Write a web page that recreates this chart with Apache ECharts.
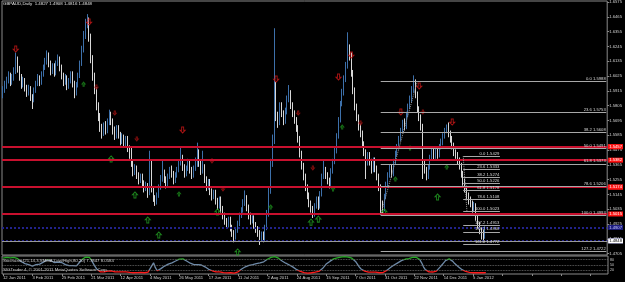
<!DOCTYPE html>
<html><head><meta charset="utf-8">
<script src="https://cdn.jsdelivr.net/npm/echarts@6/dist/echarts.min.js"></script>
<style>html,body{margin:0;padding:0;background:#000;}#c{width:625px;height:282px;}</style>
</head><body><div id="c"></div>
<script>
const opens = [
1.5890,1.5920,1.5960,1.5990,1.6030,1.5980,1.6010,1.6060,1.6150,1.6080,
1.6020,1.5960,1.5990,1.5940,1.5900,1.5930,1.5870,1.5850,1.5920,1.5970,
1.6010,1.5980,1.6040,1.6090,1.6130,1.6180,1.6120,1.6060,1.6100,1.6050,
1.6120,1.6160,1.6090,1.6030,1.5980,1.6010,1.5950,1.5990,1.6040,1.5970,
1.5900,1.5960,1.6030,1.6120,1.6220,1.6330,1.6420,1.6440,1.6310,1.6150,
1.6020,1.5920,1.5800,1.5720,1.5640,1.5600,1.5660,1.5620,1.5680,1.5740,
1.5690,1.5620,1.5580,1.5640,1.5590,1.5540,1.5570,1.5520,1.5560,1.5490,
1.5440,1.5380,1.5310,1.5340,1.5290,1.5250,1.5280,1.5230,1.5190,1.5210,
1.5150,1.5380,1.5180,1.5120,1.5090,1.5140,1.5200,1.5260,1.5310,1.5260,
1.5220,1.5280,1.5330,1.5300,1.5250,1.5290,1.5330,1.5380,1.5420,1.5350,
1.5300,1.5340,1.5390,1.5330,1.5290,1.5340,1.5400,1.5460,1.5380,1.5320,
1.5350,1.5260,1.5200,1.5240,1.5170,1.5130,1.5160,1.5100,1.5060,1.5110,
1.5040,1.4990,1.4950,1.4920,1.4960,1.4900,1.4860,1.4830,1.4880,1.4930,
1.4990,1.5030,1.5080,1.5120,1.5050,1.4990,1.4950,1.4970,1.4920,1.4890,
1.4860,1.4830,1.4850,1.4820,1.4900,1.5000,1.5170,1.5380,1.5550,1.5950,
1.5720,1.5680,1.5800,1.5750,1.5690,1.5760,1.5850,1.5900,1.5810,1.5750,
1.5700,1.5640,1.5560,1.5450,1.5360,1.5280,1.5200,1.5140,1.5080,1.5040,
1.5000,1.5060,1.5110,1.5060,1.5150,1.5280,1.5330,1.5290,1.5250,1.5220,
1.5320,1.5390,1.5470,1.5580,1.5700,1.5820,1.5900,1.6000,1.6100,1.6230,
1.6180,1.6050,1.5920,1.5800,1.5720,1.5650,1.5600,1.5520,1.5460,1.5380,
1.5440,1.5390,1.5330,1.5400,1.5340,1.5280,1.5200,1.5080,1.5040,1.5130,
1.5220,1.5290,1.5350,1.5300,1.5390,1.5450,1.5500,1.5560,1.5620,1.5680,
1.5650,1.5740,1.5800,1.5850,1.5920,1.5980,1.5890,1.5780,1.5720,1.5650,
1.5380,1.5330,1.5280,1.5350,1.5420,1.5470,1.5430,1.5480,1.5440,1.5500,
1.5530,1.5580,1.5620,1.5660,1.5600,1.5560,1.5510,1.5460,1.5440,1.5400,
1.5360,1.5300,1.5240,1.5190,1.5140,1.5100,1.5080,1.5030,1.5060,1.4980,
1.4920,1.4880,1.4850,1.4827];
const closes = [
1.5920,1.5960,1.5990,1.6030,1.5980,1.6010,1.6060,1.6150,1.6080,1.6020,
1.5960,1.5990,1.5940,1.5900,1.5930,1.5870,1.5850,1.5920,1.5970,1.6010,
1.5980,1.6040,1.6090,1.6130,1.6180,1.6120,1.6060,1.6100,1.6050,1.6120,
1.6160,1.6090,1.6030,1.5980,1.6010,1.5950,1.5990,1.6040,1.5970,1.5900,
1.5960,1.6030,1.6120,1.6220,1.6330,1.6420,1.6440,1.6310,1.6150,1.6020,
1.5920,1.5800,1.5720,1.5640,1.5600,1.5660,1.5620,1.5680,1.5740,1.5690,
1.5620,1.5580,1.5640,1.5590,1.5540,1.5570,1.5520,1.5560,1.5490,1.5440,
1.5380,1.5310,1.5340,1.5290,1.5250,1.5280,1.5230,1.5190,1.5210,1.5150,
1.5380,1.5180,1.5120,1.5090,1.5140,1.5200,1.5260,1.5310,1.5260,1.5220,
1.5280,1.5330,1.5300,1.5250,1.5290,1.5330,1.5380,1.5420,1.5350,1.5300,
1.5340,1.5390,1.5330,1.5290,1.5340,1.5400,1.5460,1.5380,1.5320,1.5350,
1.5260,1.5200,1.5240,1.5170,1.5130,1.5160,1.5100,1.5060,1.5110,1.5040,
1.4990,1.4950,1.4920,1.4960,1.4900,1.4860,1.4830,1.4880,1.4930,1.4990,
1.5030,1.5080,1.5120,1.5050,1.4990,1.4950,1.4970,1.4920,1.4890,1.4860,
1.4830,1.4850,1.4820,1.4900,1.5000,1.5170,1.5380,1.5550,1.5950,1.5720,
1.5680,1.5800,1.5750,1.5690,1.5760,1.5850,1.5900,1.5810,1.5750,1.5700,
1.5640,1.5560,1.5450,1.5360,1.5280,1.5200,1.5140,1.5080,1.5040,1.5000,
1.5060,1.5110,1.5060,1.5150,1.5280,1.5330,1.5290,1.5250,1.5220,1.5320,
1.5390,1.5470,1.5580,1.5700,1.5820,1.5900,1.6000,1.6100,1.6230,1.6180,
1.6050,1.5920,1.5800,1.5720,1.5650,1.5600,1.5520,1.5460,1.5380,1.5440,
1.5390,1.5330,1.5400,1.5340,1.5280,1.5200,1.5080,1.5040,1.5130,1.5220,
1.5290,1.5350,1.5300,1.5390,1.5450,1.5500,1.5560,1.5620,1.5680,1.5650,
1.5740,1.5800,1.5850,1.5920,1.5980,1.5890,1.5780,1.5720,1.5650,1.5380,
1.5330,1.5280,1.5350,1.5420,1.5470,1.5430,1.5480,1.5440,1.5500,1.5530,
1.5580,1.5620,1.5660,1.5600,1.5560,1.5510,1.5460,1.5440,1.5400,1.5360,
1.5300,1.5240,1.5190,1.5140,1.5100,1.5080,1.5030,1.5060,1.4980,1.4920,
1.4880,1.4850,1.4827,1.4848];
const lows = [
1.5860,1.5900,1.5930,1.5970,1.5950,1.5960,1.5990,1.6040,1.6050,1.5990,
1.5930,1.5940,1.5910,1.5870,1.5880,1.5840,1.5780,1.5830,1.5900,1.5950,
1.5950,1.5960,1.6020,1.6070,1.6110,1.6090,1.6030,1.6040,1.6020,1.6030,
1.6100,1.6060,1.6000,1.5950,1.5960,1.5920,1.5930,1.5970,1.5940,1.5860,
1.5880,1.5940,1.6010,1.6100,1.6200,1.6300,1.6380,1.6280,1.6120,1.5990,
1.5890,1.5770,1.5690,1.5610,1.5560,1.5580,1.5590,1.5600,1.5660,1.5660,
1.5590,1.5550,1.5560,1.5560,1.5510,1.5520,1.5490,1.5500,1.5460,1.5410,
1.5350,1.5280,1.5290,1.5260,1.5220,1.5230,1.5200,1.5160,1.5170,1.5120,
1.5140,1.5160,1.5090,1.5060,1.5070,1.5120,1.5180,1.5240,1.5230,1.5190,
1.5200,1.5260,1.5270,1.5220,1.5230,1.5270,1.5310,1.5360,1.5320,1.5270,
1.5280,1.5320,1.5300,1.5260,1.5270,1.5320,1.5350,1.5350,1.5290,1.5300,
1.5230,1.5170,1.5180,1.5140,1.5100,1.5110,1.5070,1.5030,1.5040,1.5010,
1.4960,1.4920,1.4890,1.4900,1.4870,1.4830,1.4790,1.4810,1.4860,1.4910,
1.4970,1.5010,1.5060,1.5020,1.4960,1.4920,1.4930,1.4890,1.4860,1.4830,
1.4770,1.4800,1.4790,1.4800,1.4880,1.4980,1.5150,1.5350,1.5520,1.5690,
1.5640,1.5660,1.5720,1.5660,1.5670,1.5740,1.5830,1.5780,1.5720,1.5670,
1.5610,1.5530,1.5420,1.5330,1.5250,1.5170,1.5110,1.5050,1.5010,1.4970,
1.4980,1.5040,1.5030,1.5040,1.5130,1.5260,1.5260,1.5220,1.5190,1.5200,
1.5300,1.5370,1.5450,1.5560,1.5680,1.5800,1.5880,1.5980,1.6080,1.6140,
1.6020,1.5890,1.5770,1.5690,1.5620,1.5570,1.5490,1.5430,1.5260,1.5360,
1.5360,1.5300,1.5310,1.5310,1.5250,1.5170,1.4995,1.5000,1.5020,1.5110,
1.5200,1.5270,1.5270,1.5280,1.5370,1.5430,1.5480,1.5540,1.5600,1.5620,
1.5630,1.5720,1.5780,1.5830,1.5900,1.5860,1.5750,1.5690,1.5620,1.5260,
1.5300,1.5250,1.5260,1.5330,1.5400,1.5400,1.5410,1.5410,1.5420,1.5480,
1.5510,1.5560,1.5600,1.5570,1.5530,1.5480,1.5430,1.5410,1.5370,1.5330,
1.5270,1.5210,1.5160,1.5110,1.5070,1.5050,1.5010,1.5023,1.4950,1.4890,
1.4850,1.4810,1.4790,1.4816];
const highs = [
1.5950,1.5990,1.6020,1.6060,1.6050,1.6040,1.6090,1.6200,1.6170,1.6100,
1.6040,1.6020,1.6010,1.5960,1.5960,1.5950,1.5890,1.5940,1.5990,1.6040,
1.6030,1.6060,1.6110,1.6160,1.6215,1.6200,1.6140,1.6120,1.6120,1.6140,
1.6185,1.6170,1.6110,1.6050,1.6040,1.6030,1.6010,1.6060,1.6060,1.5990,
1.5980,1.6050,1.6140,1.6250,1.6360,1.6450,1.6485,1.6460,1.6340,1.6180,
1.6050,1.5940,1.5830,1.5750,1.5670,1.5680,1.5690,1.5710,1.5775,1.5760,
1.5710,1.5650,1.5660,1.5660,1.5610,1.5600,1.5590,1.5580,1.5580,1.5510,
1.5490,1.5400,1.5370,1.5360,1.5310,1.5300,1.5300,1.5250,1.5240,1.5230,
1.5470,1.5400,1.5200,1.5140,1.5160,1.5220,1.5290,1.5400,1.5330,1.5280,
1.5300,1.5350,1.5360,1.5320,1.5310,1.5350,1.5400,1.5495,1.5440,1.5370,
1.5360,1.5410,1.5400,1.5350,1.5360,1.5420,1.5530,1.5480,1.5400,1.5470,
1.5370,1.5280,1.5260,1.5260,1.5190,1.5180,1.5180,1.5120,1.5130,1.5130,
1.5060,1.5010,1.4970,1.4980,1.4980,1.4920,1.4880,1.4900,1.4950,1.5010,
1.5050,1.5110,1.5175,1.5140,1.5070,1.5010,1.4990,1.4990,1.4940,1.4910,
1.4880,1.4870,1.4870,1.4920,1.5030,1.5200,1.5410,1.5590,1.6380,1.5980,
1.5760,1.5830,1.5830,1.5770,1.5790,1.5880,1.5958,1.5920,1.5830,1.5770,
1.5720,1.5660,1.5580,1.5470,1.5380,1.5300,1.5220,1.5160,1.5100,1.5060,
1.5080,1.5130,1.5130,1.5170,1.5300,1.5400,1.5350,1.5310,1.5270,1.5340,
1.5410,1.5490,1.5600,1.5720,1.5840,1.5930,1.6030,1.6130,1.6350,1.6260,
1.6200,1.6070,1.5940,1.5820,1.5740,1.5670,1.5620,1.5540,1.5480,1.5460,
1.5460,1.5410,1.5420,1.5420,1.5360,1.5300,1.5220,1.5100,1.5150,1.5240,
1.5310,1.5370,1.5370,1.5410,1.5470,1.5520,1.5580,1.5640,1.5700,1.5710,
1.5760,1.5820,1.5880,1.5950,1.6030,1.6000,1.5910,1.5800,1.5740,1.5670,
1.5400,1.5350,1.5370,1.5440,1.5490,1.5490,1.5500,1.5500,1.5520,1.5560,
1.5600,1.5640,1.5665,1.5680,1.5620,1.5580,1.5530,1.5480,1.5460,1.5420,
1.5380,1.5320,1.5260,1.5210,1.5160,1.5130,1.5100,1.5090,1.5080,1.5000,
1.4940,1.4900,1.4880,1.4908];
const stochMain = [
88,90,92,91,89,90,92,93,85,78,
68,62,58,55,52,48,44,47,52,56,
55,60,66,72,78,80,74,66,64,62,
66,70,64,56,52,48,46,50,47,42,
45,55,68,80,88,94,96,92,80,62,
44,28,18,12,10,12,14,16,20,18,
14,12,13,12,11,12,10,12,10,9,
8,7,9,8,7,9,8,7,9,10,
20,45,62,35,18,22,30,38,44,50,
55,58,62,66,72,78,83,86,84,78,
72,66,60,56,52,50,52,55,50,46,
40,32,26,22,18,15,12,10,12,9,
8,7,6,8,7,6,5,8,12,22,
28,34,40,44,48,50,52,55,58,60,
62,65,68,72,82,88,92,95,96,94,
88,80,72,66,60,55,50,45,38,30,
24,18,14,10,8,6,5,6,7,8,
10,12,14,18,30,42,55,62,70,80,
84,88,90,92,94,95,96,96,94,92,
88,82,70,55,40,28,20,16,12,10,
9,10,12,10,8,7,6,8,12,20,
28,36,44,50,56,62,68,74,78,82,
84,86,90,92,94,93,88,80,62,40,
24,16,12,10,11,13,16,26,38,50,
62,74,82,84,80,70,58,48,40,32,
24,18,14,11,9,8,7,8,7,6,
7,6,7,7.8];
const tickLabels = ['12 Jan 2011','3 Feb 2011','25 Feb 2011','21 Mar 2011','12 Apr 2011','4 May 2011','26 May 2011','17 Jun 2011','11 Jul 2011','2 Aug 2011','24 Aug 2011','15 Sep 2011','7 Oct 2011','31 Oct 2011','22 Nov 2011','14 Dec 2011','5 Jan 2012'];
const priceTicks = [1.6575,1.6465,1.6355,1.6245,1.6135,1.6025,1.5915,1.5805,1.5695,1.5585,1.5475,1.5365,1.5255,1.5145,1.5035,1.4925,1.4815,1.4705];
const redLevels = [1.5513,1.5457,1.5382,1.5197,1.5174,1.5015];
const blueLevels = [1.4907,1.4787];
const bidPrice = 1.4848;
const fibLongLevels = [0.0,23.6,38.2,50.0,61.8,78.6,100.0,127.2];
const fibLongPrices = [1.5988,1.5753,1.5608,1.5491,1.5373,1.5206,1.4993,1.4722];
const fibShortLevels = [0.0,23.6,38.2,50.0,61.8,78.6,100.0,127.2,138.2,161.8];
const fibShortPrices = [1.5429,1.5333,1.5274,1.5226,1.5178,1.5108,1.5023,1.4913,1.4868,1.4772];
const sellArrows = [[7,1.6226],[47,1.6426],[98,1.5624],[149,1.6003],[183,1.6018],[190,1.6181],[217,1.5758],[227,1.5951],[245,1.5683]];
const sellArrowsSmall = [[51,1.5943],[61,1.5750],[73,1.5557],[114,1.5394],[120,1.5186],[161,1.5750],[169,1.5342],[195,1.5676],[229,1.5758]];
const buyArrows = [[59,1.5409],[72,1.5141],[79,1.4955],[85,1.4844],[117,1.5015],[128,1.4718],[168,1.4939],[172,1.4962],[208,1.5015],[237,1.5126]];
const buyArrowsSmall = [[96,1.5149],[146,1.5052],[180,1.5186],[185,1.5646],[214,1.5260],[222,1.5490],[242,1.5349],[44,1.5965]];
const stochLevels = [80,50,20];
const stochTicks = [100,80,50,20];

const PAD = 66, BARS_PER_TICK = 16;
const FIB_LONG_FROM = 206, FIB_SHORT_FROM = 251, FIB_SHORT_TO = 271;
const FF = "'Liberation Sans', 'DejaVu Sans', sans-serif";
const FS = 4.2;
const total = closes.length + PAD;
const categories = [];
for (let i = 0; i < total; i++) categories.push(String(i));
const lastIdx = total - 1;
const candleData = closes.map((c, i) => [opens[i], c, lows[i], highs[i]]);

const boxLabel = (txt, bg, fg) => ({show: true, position: 'end', formatter: txt, backgroundColor: bg, color: fg, fontSize: FS, fontFamily: FF, padding: [1, 1, 0, 1], distance: 1});
const ml = [];
redLevels.forEach(v => ml.push({yAxis: v, lineStyle: {color: '#c8102e', width: 2, type: 'solid'}, label: boxLabel(v.toFixed(4), '#ff1414', '#ffffff')}));
blueLevels.forEach(v => ml.push({yAxis: v, lineStyle: {color: '#22228c', width: 2, type: 'dotted'}, label: boxLabel(v.toFixed(4), '#1c1c80', '#c8c8ff')}));
ml.push({yAxis: bidPrice, lineStyle: {color: '#9a9a9a', width: 1, type: 'solid'}, label: boxLabel(bidPrice.toFixed(4), '#ffffff', '#000000')});
const fibLabel = txt => ({show: true, position: 'insideEndTop', formatter: txt, color: '#d8d8d8', fontSize: FS, fontFamily: FF, distance: 0.5});
fibLongPrices.forEach((p, k) => ml.push([
  {coord: [FIB_LONG_FROM, p], lineStyle: {color: '#a8a8a8', width: 1, type: 'solid'}, label: fibLabel(fibLongLevels[k].toFixed(1) + ' ' + p.toFixed(4))},
  {coord: [lastIdx, p]}]));
fibShortPrices.forEach((p, k) => ml.push([
  {coord: [FIB_SHORT_FROM, p], lineStyle: {color: '#a8a8a8', width: 1, type: 'solid'}, label: fibLabel(fibShortLevels[k].toFixed(1) + ' ' + p.toFixed(4))},
  {coord: [FIB_SHORT_TO, p]}]));
ml.push([{coord: [FIB_LONG_FROM, fibLongPrices[6]], lineStyle: {color: '#9a9a9a', width: 1, type: 'dotted'}, label: {show: false}}, {coord: [226, fibLongPrices[0]]}]);
ml.push([{coord: [FIB_SHORT_FROM, fibShortPrices[0]], lineStyle: {color: '#9a9a9a', width: 1, type: 'dotted'}, label: {show: false}}, {coord: [253, fibShortPrices[6]]}]);

const upPath = 'path://M5,0 L10,5 L7,5 L7,11 L3,11 L3,5 L0,5 Z';
const downPath = 'path://M3,0 L7,0 L7,6 L10,6 L5,11 L0,6 L3,6 Z';
const arrowSeries = (data, sym, size, col) => ({
  type: 'scatter', xAxisIndex: 0, yAxisIndex: 0, data, symbol: sym, symbolSize: size, symbolKeepAspect: false,
  itemStyle: {color: 'rgba(0,0,0,0)', borderColor: col, borderWidth: 1}, silent: true, z: 4
});

const chart = echarts.init(document.getElementById('c'), null, {renderer: 'canvas'});
chart.setOption({
  animation: false,
  backgroundColor: '#000000',
  textStyle: {fontFamily: FF},
  grid: [
    {left: 2, right: 17, top: 1, height: 254, show: true, borderColor: '#8a8a8a', borderWidth: 1},
    {left: 2, right: 17, top: 256, height: 18, show: true, borderColor: '#8a8a8a', borderWidth: 1}
  ],
  xAxis: [
    {type: 'category', gridIndex: 0, data: categories, boundaryGap: true, axisLine: {show: false}, axisTick: {show: false}, axisLabel: {show: false}, splitLine: {show: false}},
    {type: 'category', gridIndex: 1, data: categories, boundaryGap: true, axisLine: {show: false},
     axisTick: {show: true, interval: BARS_PER_TICK - 1, alignWithLabel: true, length: 2, lineStyle: {color: '#8a8a8a'}},
     axisLabel: {show: true, interval: BARS_PER_TICK - 1, align: 'left', margin: 2, fontSize: FS, fontFamily: FF, color: '#d0d0d0',
       formatter: (v, idx) => { const k = idx / BARS_PER_TICK; return (Number.isInteger(k) && k < tickLabels.length) ? tickLabels[k] : ''; }},
     splitLine: {show: false}}
  ],
  yAxis: [
    {type: 'value', gridIndex: 0, position: 'right', min: 1.46953, max: 1.65824, scale: true, splitLine: {show: false}, axisLine: {show: false},
     axisTick: {show: true, length: 2, customValues: priceTicks, lineStyle: {color: '#8a8a8a'}},
     axisLabel: {show: true, customValues: priceTicks, margin: 2, fontSize: FS, fontFamily: FF, color: '#d0d0d0', formatter: v => v.toFixed(4)}},
    {type: 'value', gridIndex: 1, position: 'right', min: 0, max: 100, splitLine: {show: false}, axisLine: {show: false},
     axisTick: {show: false},
     axisLabel: {show: true, customValues: stochTicks, margin: 2, fontSize: 3.6, fontFamily: FF, color: '#d0d0d0'}}
  ],
  visualMap: [{show: false, type: 'piecewise', seriesIndex: 5, dimension: 1,
    pieces: [{lt: 20, color: '#ff1a1a'}, {gte: 20, lte: 80, color: '#6e8aa8'}, {gt: 80, color: '#24a524'}]}],
  graphic: [
    {type: 'text', left: 3, top: 2, style: {text: 'GBPAUD,Daily  1.4827 1.4908 1.4816 1.4848', fill: '#e0e0e0', fontSize: 4.4, fontFamily: FF}},
    {type: 'text', left: 3, top: 258.5, z: 10, style: {text: 'Stochastic(21,14,3,SMMA,Low/High,80,20) 7.7847 8.0584', fill: '#d0d0d0', fontSize: 4.3, fontFamily: FF}},
    {type: 'text', left: 3, top: 267.5, z: 10, style: {text: 'SIGTrader 4, \u00a9 2001-2011 MetaQuotes Software Corp.', fill: '#d0d0d0', fontSize: 4.3, fontFamily: FF}}
  ],
  series: [
    {type: 'candlestick', xAxisIndex: 0, yAxisIndex: 0, data: candleData, barWidth: 1,
     itemStyle: {color: '#3d70aa', color0: '#f2f2f2', borderColor: '#3d70aa', borderColor0: '#d8d8d8', borderWidth: 1},
     markLine: {silent: true, symbol: ['none', 'none'], animation: false, data: ml}, z: 3},
    arrowSeries(sellArrows, downPath, [5, 6], '#d01818'),
    arrowSeries(sellArrowsSmall, downPath, [3, 4], '#a01010'),
    arrowSeries(buyArrows, upPath, [5, 6], '#23a023'),
    arrowSeries(buyArrowsSmall, upPath, [3, 4], '#1c8a1c'),
    {type: 'line', xAxisIndex: 1, yAxisIndex: 1, data: stochMain, showSymbol: false, symbol: 'none', lineStyle: {width: 1.3},
     markLine: {silent: true, symbol: ['none', 'none'], animation: false, label: {show: false},
       lineStyle: {color: '#7a7a7a', type: 'dotted', width: 0.8}, data: stochLevels.map(v => ({yAxis: v}))}}
  ]
});
</script>
</body></html>
